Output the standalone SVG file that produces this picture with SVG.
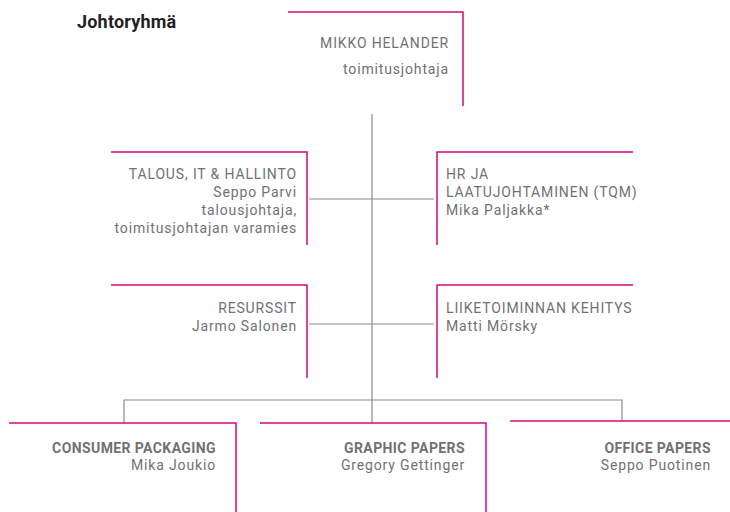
<svg xmlns="http://www.w3.org/2000/svg" width="730" height="512" viewBox="0 0 730 512">
<style>
.box{fill:none;stroke:#d4087e;stroke-width:1.5}
.con{fill:none;stroke:#8c8c8c;stroke-width:1.2}
text{font-family:Roboto,"Liberation Sans",sans-serif;font-size:14px;fill:#717174;letter-spacing:0.85px}
.r{text-anchor:end}
.b{font-weight:bold;font-size:14px;letter-spacing:0.4px}
.title{font-size:18px;font-weight:bold;fill:#222;letter-spacing:0.2px}
</style>
<rect width="730" height="512" fill="#fff"/>
<text class="title" x="77" y="28">Johtoryhmä</text>
<g id="connectors">
<path class="con" d="M372 114V423"/>
<path class="con" d="M309 199H434"/>
<path class="con" d="M309 324H434"/>
<path class="con" d="M124 423V400H622V421"/>
</g>
<g id="ceo">
<path class="box" d="M288 12H463V106"/>
<text class="r" x="449" y="48">MIKKO HELANDER</text>
<text class="r" x="449" y="74">toimitusjohtaja</text>
</g>
<g id="talous">
<path class="box" d="M111 152H307V245"/>
<text class="r" x="297" y="179">TALOUS, IT &amp; HALLINTO</text>
<text class="r" x="297" y="197">Seppo Parvi</text>
<text class="r" x="297" y="215">talousjohtaja,</text>
<text class="r" x="297" y="233">toimitusjohtajan varamies</text>
</g>
<g id="hr">
<path class="box" d="M633 152H437V245"/>
<text x="446" y="179">HR JA</text>
<text x="446" y="197">LAATUJOHTAMINEN (TQM)</text>
<text x="446" y="215">Mika Paljakka*</text>
</g>
<g id="resurssit">
<path class="box" d="M111 285H307V378"/>
<text class="r" x="297" y="313">RESURSSIT</text>
<text class="r" x="297" y="331">Jarmo Salonen</text>
</g>
<g id="liiketoiminta">
<path class="box" d="M633 285H437V378"/>
<text x="446" y="313">LIIKETOIMINNAN KEHITYS</text>
<text x="446" y="331">Matti Mörsky</text>
</g>
<g id="consumer">
<path class="box" d="M9 423H236V512"/>
<text class="r b" x="216" y="453">CONSUMER PACKAGING</text>
<text class="r" x="216" y="470">Mika Joukio</text>
</g>
<g id="graphic">
<path class="box" d="M260 423H486V512"/>
<text class="r b" x="465" y="453">GRAPHIC PAPERS</text>
<text class="r" x="465" y="470">Gregory Gettinger</text>
</g>
<g id="office">
<path class="box" d="M510 421H730"/>
<text class="r b" x="711" y="453">OFFICE PAPERS</text>
<text class="r" x="711" y="470">Seppo Puotinen</text>
</g>
</svg>
